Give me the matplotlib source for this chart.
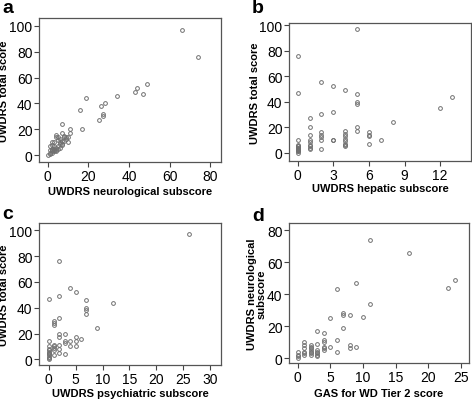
import matplotlib
matplotlib.use("Agg")
import matplotlib.pyplot as plt

plt.rcParams['font.family'] = ['Liberation Sans', 'DejaVu Sans']

# Panel a: neurological subscore vs total score
a_x = [66, 74, 49, 44, 43, 47, 34, 19, 16, 28, 26, 27, 27, 25, 17, 7, 11, 11, 9, 10,
       7, 8, 4, 4, 5, 7, 8, 6, 7, 3, 2, 2, 1, 3, 4, 5, 5, 6, 3, 2, 1, 2, 3, 4, 1, 2,
       0, 1, 6, 5, 8, 3, 4, 2, 7, 9, 6, 10]
a_y = [97, 76, 55, 52, 49, 47, 46, 44, 35, 40, 38, 32, 30, 27, 20, 24, 20, 17, 14, 10,
       17, 15, 16, 14, 14, 11, 11, 9, 9, 10, 10, 8, 7, 7, 6, 5, 7, 6, 5, 5, 4, 3, 4, 4, 2, 2,
       0, 1, 13, 12, 14, 3, 3, 4, 8, 13, 10, 14]

# Panel b: hepatic subscore vs total score
b_x = [0]*15 + [1]*9 + [2]*7 + [3]*4 + [4]*9 + [5]*6 + [6]*4 + [7, 8, 12, 13]
b_y = [76, 47, 10, 6, 5, 5, 4, 4, 3, 3, 2, 2, 1, 1, 0,
       27, 20, 14, 10, 8, 6, 5, 4, 3,
       55, 30, 16, 14, 12, 10, 3,
       52, 32, 10, 10,
       49, 17, 15, 13, 11, 9, 7, 6, 5,
       97, 46, 40, 38, 20, 17,
       16, 14, 13, 7,
       10, 24, 35, 44]

# Panel c: psychiatric subscore vs total score
c_x = [26, 2, 0, 4, 5, 2, 7, 7, 7, 7, 12, 2, 1, 1, 1, 9, 2, 2, 3, 6, 5, 5, 5,
       4, 4, 3, 3, 2, 2, 2, 3, 1, 1, 1, 1, 1,
       0, 0, 0, 0, 0, 0, 0, 0, 0, 0, 0]
c_y = [97, 76, 47, 55, 52, 49, 46, 40, 38, 35, 44, 32, 30, 28, 27, 24, 20, 17, 20, 16, 17, 14, 10,
       14, 10, 14, 13, 11, 8, 5, 4, 11, 10, 9, 7, 3,
       14, 10, 8, 7, 6, 5, 4, 3, 2, 1, 0]

# Panel d: GAS for WD Tier 2 score vs neurological subscore
d_x = [11, 17, 24, 23, 9, 6, 11, 7, 7, 8, 10, 5, 7, 3, 4, 3, 4, 4, 6, 6, 5, 8, 8, 9,
       4, 4, 4, 3, 3, 3, 3, 3, 2, 2, 2, 2, 2, 2, 2, 1, 1, 1, 1, 1, 1, 0, 0, 0, 0]
d_y = [74, 66, 49, 44, 47, 43, 34, 28, 27, 27, 26, 25, 19, 17, 16, 9, 11, 10, 11, 4, 7, 8, 6, 7,
       7, 6, 5, 5, 4, 3, 2, 1, 8, 7, 6, 5, 4, 3, 2, 10, 8, 6, 4, 3, 2, 4, 2, 1, 0]

panels = [
    dict(letter='a', x=a_x, y=a_y, xlabel='UWDRS neurological subscore', ylabel='UWDRS total score',
         xticks=[0, 20, 40, 60, 80], yticks=[0, 20, 40, 60, 80, 100],
         xlim=(-4.3, 85.2), ylim=(-5.1, 105.9), rect=[39, 19, 221, 163],
         ylab_right=9, xlab_top=187, letter_pos=(2, 13)),
    dict(letter='b', x=b_x, y=b_y, xlabel='UWDRS hepatic subscore', ylabel='UWDRS total score',
         xticks=[0, 3, 6, 9, 12], yticks=[0, 20, 40, 60, 80, 100],
         xlim=(-0.73, 14.6), ylim=(-6.5, 101.6), rect=[289, 24, 471, 162],
         ylab_right=260, xlab_top=184, letter_pos=(252, 13)),
    dict(letter='c', x=c_x, y=c_y, xlabel='UWDRS psychiatric subscore', ylabel='UWDRS total score',
         xticks=[0, 5, 10, 15, 20, 25, 30], yticks=[0, 20, 40, 60, 80, 100],
         xlim=(-1.8, 32.0), ylim=(-4.4, 105.7), rect=[39, 224, 221, 366],
         ylab_right=9, xlab_top=389, letter_pos=(2, 219)),
    dict(letter='d', x=d_x, y=d_y, xlabel='GAS for WD Tier 2 score', ylabel='UWDRS neurological\nsubscore',
         xticks=[0, 5, 10, 15, 20, 25], yticks=[0, 20, 40, 60, 80],
         xlim=(-1.3, 26.2), ylim=(-3.1, 84.6), rect=[289, 224, 469, 364],
         ylab_right=267, xlab_top=389, letter_pos=(252, 221)),
]

W, H = 472, 402
fig = plt.figure(figsize=(W / 100, H / 100), dpi=100)

for p in panels:
    l, t, r, b = p['rect']
    w, h = r - l, b - t
    ax = fig.add_axes([l / W, 1 - b / H, w / W, h / H])
    ax.plot(p['x'], p['y'], linestyle='none', marker='o', markersize=2.7,
            markerfacecolor='none', markeredgecolor='#707070', markeredgewidth=0.7)
    ax.set_xlim(p['xlim'])
    ax.set_ylim(p['ylim'])
    ax.set_xticks(p['xticks'])
    ax.set_yticks(p['yticks'])
    for s in ax.spines.values():
        s.set_color('#555555')
        s.set_linewidth(0.9)
    ax.tick_params(axis='both', direction='out', length=3.5, width=0.8, color='#444444',
                   labelsize=10, labelcolor='black', pad=1.2)
    ax.set_xlabel(p['xlabel'], fontsize=8, fontweight='bold', color='black')
    ax.set_ylabel(p['ylabel'], fontsize=8, fontweight='bold', color='black', linespacing=1.0)
    ax.yaxis.set_label_coords((p['ylab_right'] - l) / w, 0.5)
    ax.xaxis.set_label_coords(0.5, -(p['xlab_top'] - b) / h)
    lx, ly = p['letter_pos']
    fig.text(lx / W, 1 - ly / H, p['letter'], fontsize=14, fontweight='bold',
             ha='left', va='baseline', color='black')

fig.savefig('out.png', dpi=100)
